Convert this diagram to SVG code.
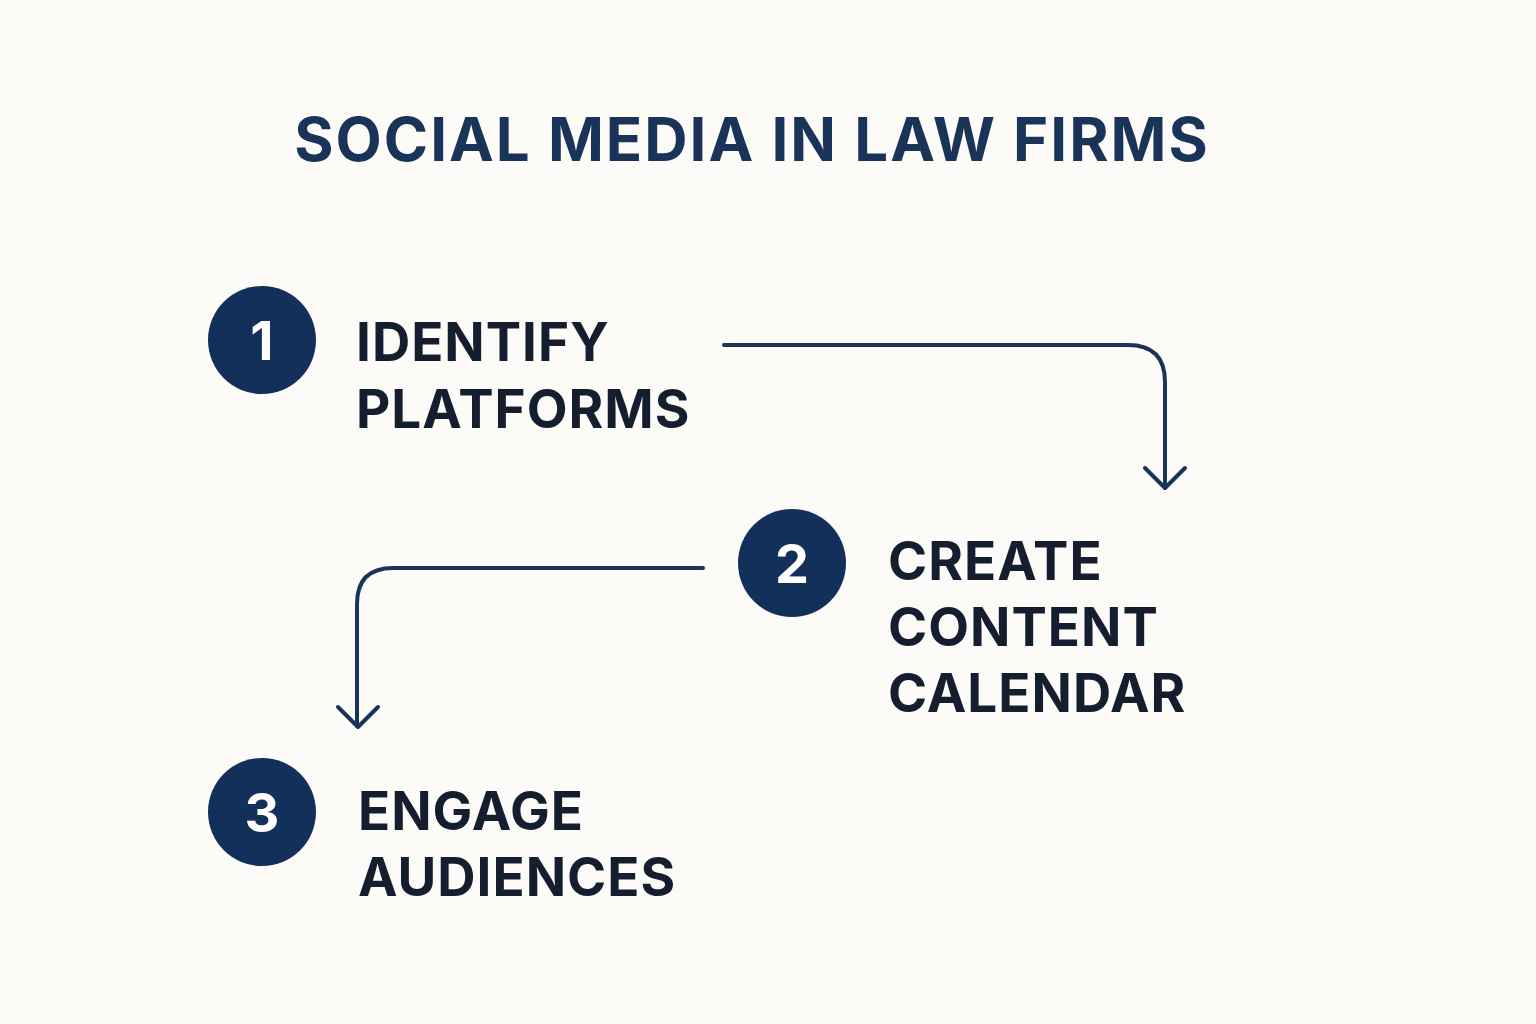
<svg xmlns="http://www.w3.org/2000/svg" width="1536" height="1024" viewBox="0 0 1536 1024">
<style>
.t{font-family:"Inter","Liberation Sans",sans-serif;font-weight:700;}
.lbl{font-size:53px;fill:#141e2e;letter-spacing:1px;}
.num{font-size:54px;fill:#ffffff;text-anchor:middle;}
.c{fill:#12305a;}
.ln{fill:none;stroke:#1a3358;stroke-width:4;stroke-linecap:round;stroke-linejoin:round;}
</style>
<rect width="1536" height="1024" fill="#fcfbf7"/>
<text class="t" x="752" y="161" font-size="60" fill="#1a3358" text-anchor="middle" letter-spacing="2">SOCIAL MEDIA IN LAW FIRMS</text>
<g id="connectors">
<path class="ln" d="M724,345 H1128 Q1165,345 1165,382 V488"/>
<path class="ln" d="M1145,468 L1165,488 L1185,468"/>
<path class="ln" d="M703,568 H393 Q357,568 357,604 V726"/>
<path class="ln" d="M338,707 L358,727 L378,707"/>
</g>
<g id="step1">
<circle class="c" cx="262" cy="340" r="54"/>
<text class="t num" x="262" y="360">1</text>
<text class="t lbl" x="356" y="361">IDENTIFY</text>
<text class="t lbl" x="356" y="428">PLATFORMS</text>
</g>
<g id="step2">
<circle class="c" cx="792" cy="563" r="54"/>
<text class="t num" x="792" y="583">2</text>
<text class="t lbl" x="888" y="580">CREATE</text>
<text class="t lbl" x="888" y="646">CONTENT</text>
<text class="t lbl" x="888" y="712">CALENDAR</text>
</g>
<g id="step3">
<circle class="c" cx="262" cy="812" r="54"/>
<text class="t num" x="262" y="832">3</text>
<text class="t lbl" x="358" y="830">ENGAGE</text>
<text class="t lbl" x="358" y="896">AUDIENCES</text>
</g>
</svg>
